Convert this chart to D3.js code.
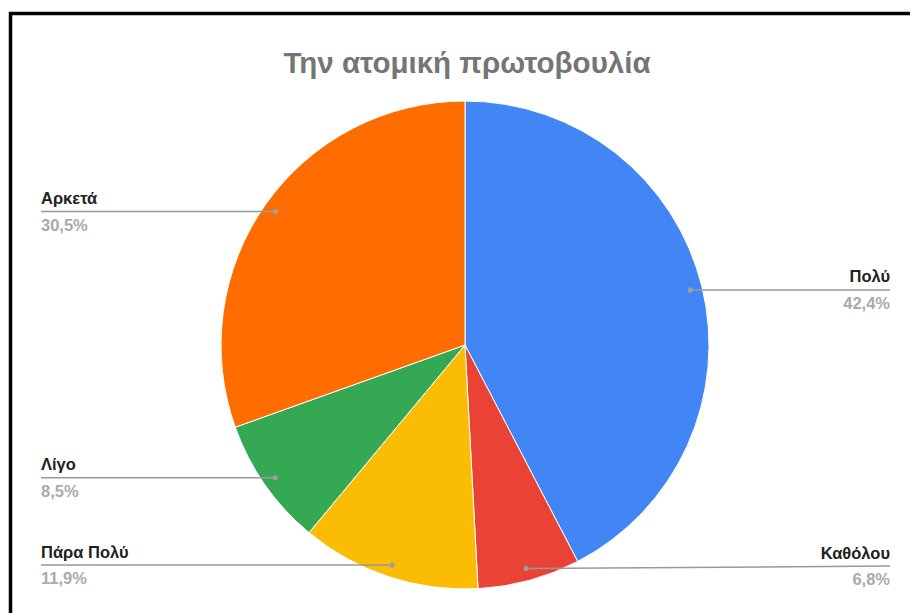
<!DOCTYPE html>
<html>
<head>
<meta charset="utf-8">
<script src="https://cdn.jsdelivr.net/npm/d3@7"></script>
<style>
  html, body { margin: 0; padding: 0; background: #fff; }
  svg { display: block; font-family: Arial, "Liberation Sans", sans-serif; }
</style>
</head>
<body>
<svg id="chart" width="910" height="613"></svg>
<script>
// Survey answers, in slice order clockwise from 12 o'clock
const categories = ["Πολύ", "Καθόλου", "Πάρα Πολύ", "Λίγο", "Αρκετά"];
const shares = [42.4, 6.8, 11.9, 8.5, 30.5];
const colors = ["#4285f4", "#ea4335", "#fbbc04", "#34a853", "#ff6d01"];
const title = "Την ατομική πρωτοβουλία";

const width = 910, height = 613;
const cx = 465, cy = 345, radius = 244;
const dotRadius = radius * 0.95;
const leftX = 41, rightX = 890, maxLabelY = 566;

const svg = d3.select("#chart");

// frame
svg.append("rect")
  .attr("x", 10.5).attr("y", 13.5)
  .attr("width", width + 20).attr("height", height + 20)
  .attr("fill", "none").attr("stroke", "#000").attr("stroke-width", 3.5);

svg.append("text")
  .attr("x", 467).attr("y", 73)
  .attr("text-anchor", "middle")
  .attr("font-size", 29.5).attr("font-weight", "bold")
  .attr("fill", "#757575")
  .text(title);

const data = categories.map((c, i) => ({ name: c, value: shares[i], color: colors[i] }));

const pie = d3.pie().value(d => d.value).sort(null);
const arc = d3.arc().innerRadius(0).outerRadius(radius);
const arcs = pie(data);

const g = svg.append("g").attr("transform", `translate(${cx},${cy})`);
g.selectAll("path")
  .data(arcs)
  .join("path")
  .attr("d", arc)
  .attr("fill", d => d.data.color)
  .attr("stroke", "#fff")
  .attr("stroke-width", 1);

const fmt = v => d3.format(".1f")(v).replace(".", ",") + "%";

const labels = svg.append("g");
arcs.forEach(a => {
  const mid = (a.startAngle + a.endAngle) / 2;
  const px = cx + dotRadius * Math.sin(mid);
  const py = cy - dotRadius * Math.cos(mid);
  const right = px > cx;
  const ly = Math.min(py, maxLabelY);
  const ex = right ? rightX : leftX;

  labels.append("line")
    .attr("x1", px).attr("y1", py)
    .attr("x2", ex).attr("y2", ly)
    .attr("stroke", "#999").attr("stroke-width", 1.5);
  labels.append("circle")
    .attr("cx", px).attr("cy", py).attr("r", 2.6)
    .attr("fill", "#9e9e9e");

  labels.append("text")
    .attr("x", ex).attr("y", ly - 7.5)
    .attr("text-anchor", right ? "end" : "start")
    .attr("font-size", 16.5).attr("font-weight", "bold")
    .attr("fill", "#212121")
    .text(a.data.name);
  labels.append("text")
    .attr("x", ex).attr("y", ly + 19)
    .attr("text-anchor", right ? "end" : "start")
    .attr("font-size", 16.5).attr("font-weight", "bold")
    .attr("fill", "#aaaaaa")
    .text(fmt(a.data.value));
});
</script>
</body>
</html>
